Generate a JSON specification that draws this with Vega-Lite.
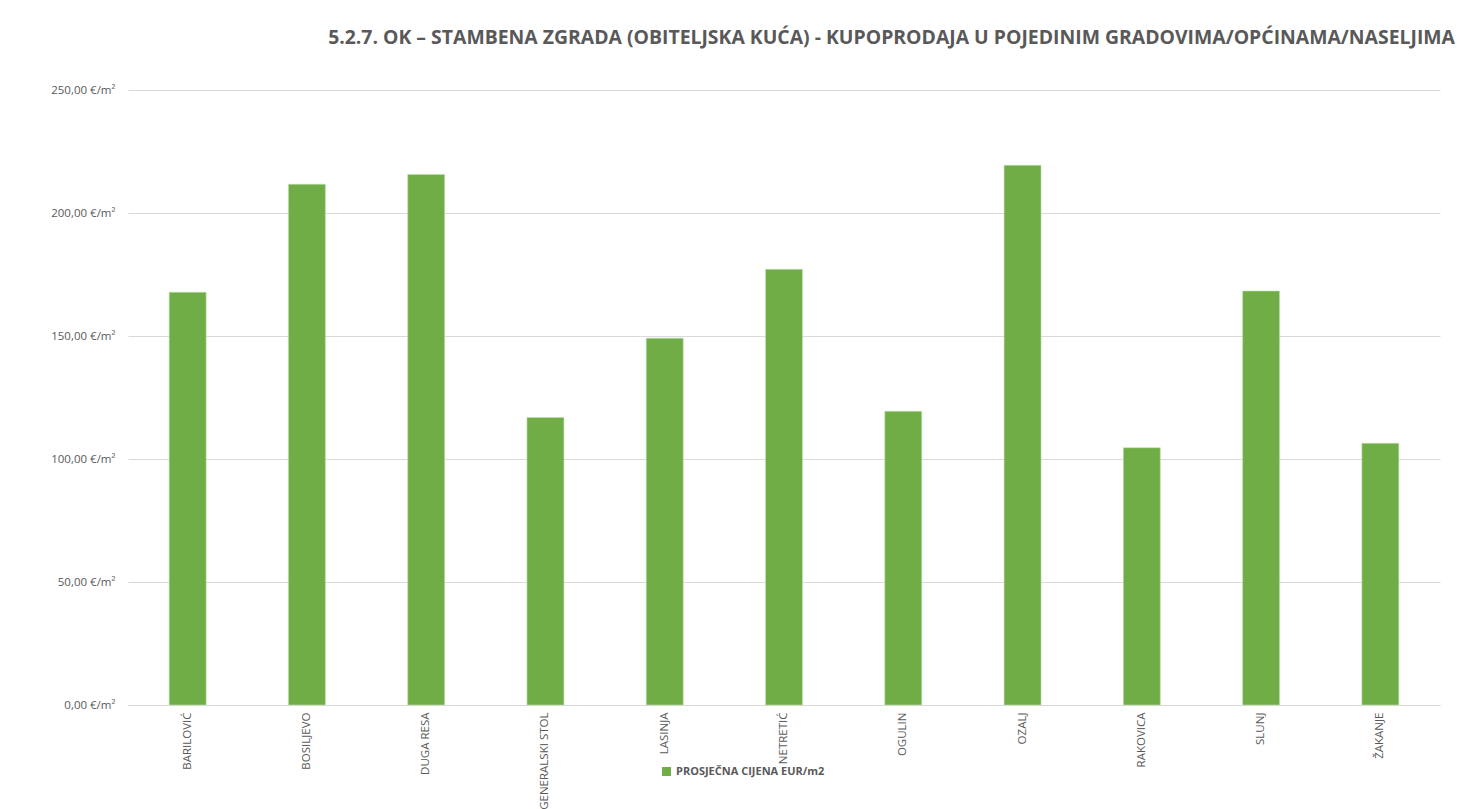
{
  "$schema": "https://vega.github.io/schema/vega-lite/v6.json",
  "width": 1312,
  "height": 615,
  "autosize": "none",
  "padding": {"left": 128, "top": 90, "right": 35, "bottom": 104},
  "background": "#ffffff",
  "title": {
    "text": "5.2.7. OK – STAMBENA ZGRADA (OBITELJSKA KUĆA) - KUPOPRODAJA U POJEDINIM GRADOVIMA/OPĆINAMA/NASELJIMA",
    "anchor": "end",
    "dx": 15,
    "offset": 36,
    "font": "Open Sans",
    "fontSize": 19.4,
    "fontWeight": "bold",
    "color": "#595959"
  },
  "data": {
    "values": [
      {"grad": "BARILOVIĆ", "cijena": 167.8, "serija": "PROSJEČNA CIJENA EUR/m2"},
      {"grad": "BOSILJEVO", "cijena": 211.7, "serija": "PROSJEČNA CIJENA EUR/m2"},
      {"grad": "DUGA RESA", "cijena": 215.7, "serija": "PROSJEČNA CIJENA EUR/m2"},
      {"grad": "GENERALSKI STOL", "cijena": 116.9, "serija": "PROSJEČNA CIJENA EUR/m2"},
      {"grad": "LASINJA", "cijena": 149.1, "serija": "PROSJEČNA CIJENA EUR/m2"},
      {"grad": "NETRETIĆ", "cijena": 177.1, "serija": "PROSJEČNA CIJENA EUR/m2"},
      {"grad": "OGULIN", "cijena": 119.4, "serija": "PROSJEČNA CIJENA EUR/m2"},
      {"grad": "OZALJ", "cijena": 219.4, "serija": "PROSJEČNA CIJENA EUR/m2"},
      {"grad": "RAKOVICA", "cijena": 104.6, "serija": "PROSJEČNA CIJENA EUR/m2"},
      {"grad": "SLUNJ", "cijena": 168.3, "serija": "PROSJEČNA CIJENA EUR/m2"},
      {"grad": "ŽAKANJE", "cijena": 106.4, "serija": "PROSJEČNA CIJENA EUR/m2"}
    ]
  },
  "mark": {"type": "bar", "stroke": "#c5e0b4", "strokeWidth": 0.6},
  "encoding": {
    "x": {
      "field": "grad",
      "type": "nominal",
      "sort": null,
      "title": null,
      "scale": {"paddingInner": 0.69, "paddingOuter": 0.345},
      "axis": {
        "labelAngle": -90,
        "labelFont": "Open Sans",
        "labelFontSize": 11.5,
        "labelColor": "#595959",
        "labelPadding": 7,
        "ticks": false,
        "domainColor": "#d9d9d9",
        "domainWidth": 1,
        "labelOverlap": false
      }
    },
    "y": {
      "field": "cijena",
      "type": "quantitative",
      "title": null,
      "scale": {"domain": [0, 250], "nice": false},
      "axis": {
        "values": [0, 50, 100, 150, 200, 250],
        "labelExpr": "replace(format(datum.value, '.2f'), '.', ',') + ' €/m²'",
        "labelFont": "Open Sans",
        "labelFontSize": 11.5,
        "labelColor": "#595959",
        "labelPadding": 13,
        "ticks": false,
        "domain": false,
        "gridColor": "#d9d9d9",
        "gridWidth": 1
      }
    },
    "color": {
      "field": "serija",
      "type": "nominal",
      "scale": {"range": ["#70ad47"]},
      "legend": {
        "title": null,
        "orient": "none",
        "legendX": 533,
        "legendY": 676,
        "symbolType": "square",
        "symbolSize": 80,
        "symbolStrokeWidth": 0,
        "labelFont": "Open Sans",
        "labelFontSize": 11,
        "labelFontWeight": "bold",
        "labelColor": "#595959",
        "labelOffset": 4
      }
    }
  },
  "config": {"view": {"stroke": null}}
}
